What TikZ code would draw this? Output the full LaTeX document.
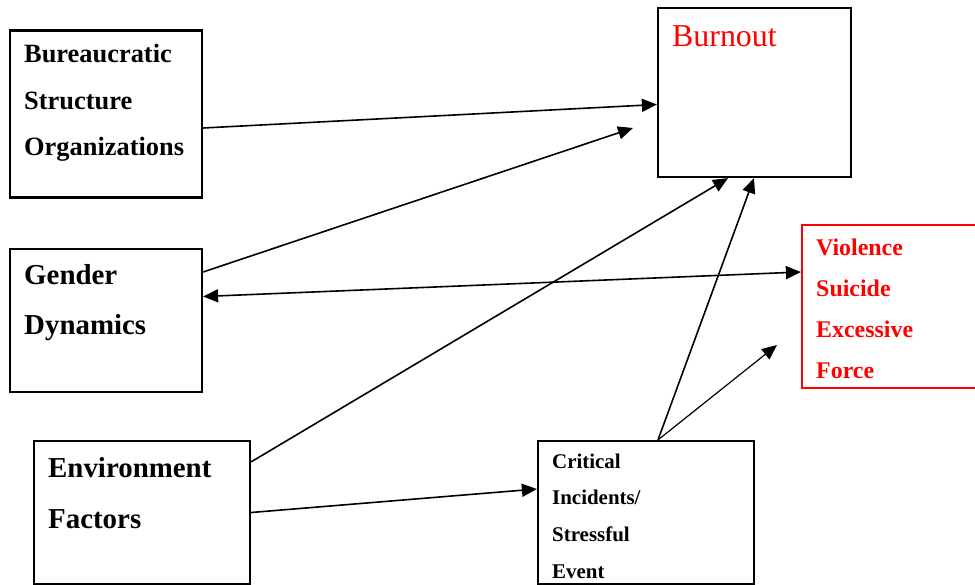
\documentclass[tikz,border=0pt]{standalone}
\usepackage{fontspec}
\setmainfont{Liberation Serif}
\usetikzlibrary{arrows.meta}
\definecolor{pured}{RGB}{255,0,0}
\tikzset{
  boxb/.style={draw=black, line width=2.2bp, rectangle, inner sep=0pt},
  boxr/.style={draw=pured, line width=2.2bp, rectangle, inner sep=0pt},
  lbl/.style={anchor=base west, inner sep=0pt, align=left},
  conn/.style={line width=1.6bp, -{Triangle[length=15bp,width=13bp]}},
  dconn/.style={line width=1.6bp, {Triangle[length=15bp,width=13bp]}-{Triangle[length=15bp,width=13bp]}}
}
\begin{document}
\begin{tikzpicture}[x=1bp, y=-1bp]
\useasboundingbox (0,0) rectangle (975,585);
% boxes
\node[boxb, minimum width=192bp, minimum height=167bp] (bureau) at (106,114) {};
\node[boxb, minimum width=192bp, minimum height=143bp] (gender) at (106,320.5) {};
\node[boxb, minimum width=216bp, minimum height=143bp] (env) at (142,512.5) {};
\node[boxb, minimum width=216bp, minimum height=143bp] (crit) at (646,512.5) {};
\node[boxb, minimum width=193bp, minimum height=169bp] (burn) at (754.5,92.5) {};
\node[boxr, minimum width=176bp, minimum height=163bp] (viol) at (890,306.5) {};
% texts (anchored at the baseline of the last line)
\node[lbl, font=\bfseries\fontsize{26.5}{46.5}\selectfont] (tbureau) at (24,155.5) {Bureaucratic\\Structure\\Organizations};
\node[lbl, font=\bfseries\fontsize{29}{50}\selectfont] (tgender) at (24,334.5) {Gender\\Dynamics};
\node[lbl, font=\bfseries\fontsize{29}{51}\selectfont] (tenv) at (48,528) {Environment\\Factors};
\node[lbl, font=\bfseries\fontsize{21}{36.7}\selectfont] (tcrit) at (552,578.1) {Critical\\Incidents/\\Stressful\\Event};
\node[lbl, font=\fontsize{32}{38}\selectfont, text=pured] (tburn) at (672,46.5) {Burnout};
\node[lbl, font=\bfseries\fontsize{24}{41.3}\selectfont, text=pured] (tviol) at (816,378.9) {Violence\\Suicide\\Excessive\\Force};
% free ends
\coordinate (g2) at (633,128);
\coordinate (c2) at (777,345);
% connectors
\draw[conn] ([yshift=-14bp]bureau.east) -- ([yshift=-12bp]burn.west);
\draw[conn] ([yshift=48.5bp]gender.east) -- (g2);
\draw[dconn] ([yshift=24bp]gender.east) -- ([yshift=34.5bp]viol.west);
\draw[conn] ([yshift=-22bp]env.north east) -- ([xshift=-26.5bp]burn.south);
\draw[conn] ([xshift=12bp]crit.north) -- ([xshift=-0.5bp]burn.south);
\draw[line width=1.2bp, -{Triangle[length=15bp,width=13bp]}] ([xshift=12bp]crit.north) -- (c2);
\draw[conn] (env.east) -- ([yshift=23.5bp]crit.west);
\end{tikzpicture}
\end{document}
